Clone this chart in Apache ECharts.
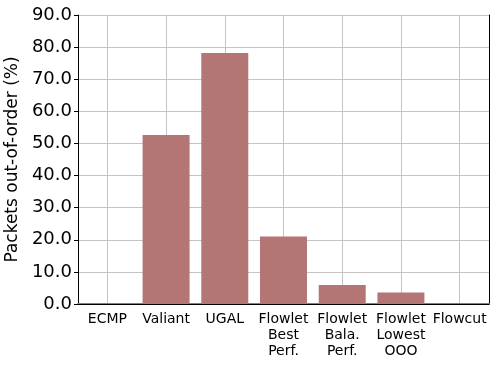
<!DOCTYPE html>
<html>
<head>
<meta charset="utf-8">
<script src="https://cdn.jsdelivr.net/npm/echarts@6/dist/echarts.min.js"></script>
<style>
  html, body { margin: 0; padding: 0; background: #fff; }
  #main { width: 498px; height: 366px; }
</style>
</head>
<body>
<div id="main"></div>
<script>
// categories and values
var categories = ['ECMP', 'Valiant', 'UGAL', 'Flowlet\nBest\nPerf.', 'Flowlet\nBala.\nPerf.', 'Flowlet\nLowest\nOOO', 'Flowcut']
var outOfOrder = [0, 52.6, 78.2, 21.0, 5.9, 3.6, 0]
var yTicks = [0, 10, 20, 30, 40, 50, 60, 70, 80, 90]

var font = 'DejaVu Sans'
var gridColor = '#c4c4c4'

// helper slots: 2 per category, so the odd ones sit on category centres (for vertical grid lines)
var halfSlots = []
for (var i = 0; i <= categories.length * 2; i++) halfSlots.push(String(i))

var myChart = echarts.init(document.getElementById('main'), null, { renderer: 'canvas' })
var option = {
  animation: false,
  textStyle: { fontFamily: font },
  grid: { left: 78, right: 9, top: 15, bottom: 62, outerBoundsMode: 'none', containLabel: false },
  xAxis: [
    {
      type: 'category',
      data: categories,
      boundaryGap: true,
      axisLine: { lineStyle: { color: '#000', width: 1 } },
      axisTick: { alignWithLabel: true, length: 4, lineStyle: { color: '#000' } },
      axisLabel: { color: '#000', fontSize: 14, lineHeight: 16, margin: 7, interval: 0, fontFamily: font },
      splitLine: { show: false },
      z: 3
    },
    {
      type: 'category',
      position: 'top',
      data: halfSlots,
      boundaryGap: false,
      axisLine: { show: true, lineStyle: { color: '#808080', width: 2 } },
      axisTick: { show: false },
      axisLabel: { show: false },
      splitLine: {
        show: true,
        interval: function (idx) { return idx % 2 === 1 },
        lineStyle: { color: gridColor, width: 1 }
      }
    }
  ],
  yAxis: [
    {
      type: 'value',
      min: yTicks[0],
      max: yTicks[yTicks.length - 1],
      interval: 10,
      name: 'Packets out-of-order (%)',
      nameLocation: 'middle',
      nameGap: 55,
      nameTextStyle: { color: '#000', fontSize: 17, fontFamily: font },
      axisLine: { show: true, lineStyle: { color: '#000', width: 1 } },
      axisTick: { show: true, length: 4, lineStyle: { color: '#000' } },
      axisLabel: {
        color: '#000', fontSize: 18, margin: 6, fontFamily: font,
        formatter: function (v) { return v.toFixed(1) }
      },
      splitLine: { show: true, lineStyle: { color: gridColor, width: 1 } }
    },
    {
      type: 'value',
      position: 'right',
      min: 0, max: 90, interval: 10,
      axisLine: { show: true, lineStyle: { color: '#000', width: 1 } },
      axisTick: { show: false },
      axisLabel: { show: false },
      splitLine: { show: false }
    }
  ],
  series: [
    {
      type: 'bar',
      data: outOfOrder,
      barWidth: '80%',
      itemStyle: { color: '#b47575' }
    }
  ]
}
myChart.setOption(option)
</script>
</body>
</html>
